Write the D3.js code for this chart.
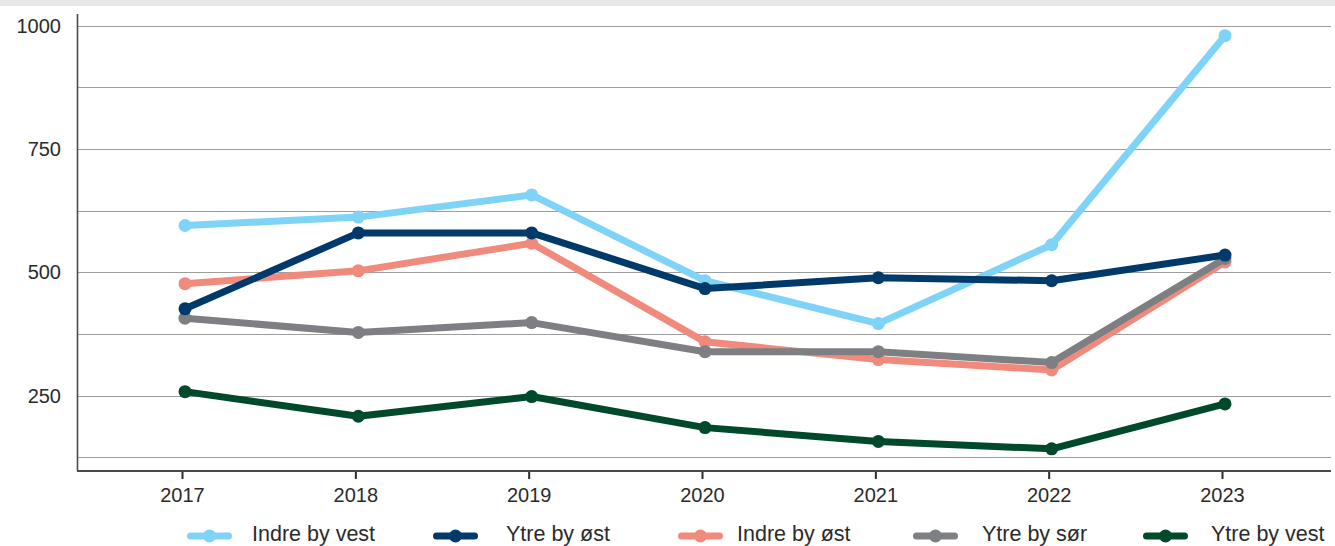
<!DOCTYPE html>
<html>
<head>
<meta charset="utf-8">
<script src="https://cdn.jsdelivr.net/npm/d3@7"></script>
<style>
  html, body { margin: 0; padding: 0; background: #ffffff; }
  svg { display: block; }
  text { font-family: "Liberation Sans", Arial, sans-serif; fill: #2b2b2b; }
</style>
</head>
<body>
<svg id="chart" width="1335" height="546"></svg>
<script>
// ---- data ----
const years = ["2017", "2018", "2019", "2020", "2021", "2022", "2023"];
const seriesNames = ["Indre by vest", "Ytre by øst", "Indre by øst", "Ytre by sør", "Ytre by vest"];
const indreByVest = [595, 612, 657, 483, 396, 556, 980];
const ytreByOst   = [426, 580, 580, 467, 489, 483, 535];
const indreByOst  = [477, 503, 559, 359, 323, 302, 521];
const ytreBySor   = [407, 378, 398, 339, 339, 317, 528];
const ytreByVest  = [258, 208, 248, 185, 157, 142, 233];
const gridValues  = [125, 250, 375, 500, 625, 750, 875, 1000];
const yTickLabels = [250, 500, 750, 1000];

const colors = {
  "Indre by vest": "#7fd3f6",
  "Ytre by øst":   "#003a6a",
  "Indre by øst":  "#f08a7d",
  "Ytre by sør":   "#7e7f83",
  "Ytre by vest":  "#004a2b"
};
const valuesByName = {
  "Indre by vest": indreByVest,
  "Ytre by øst": ytreByOst,
  "Indre by øst": indreByOst,
  "Ytre by sør": ytreBySor,
  "Ytre by vest": ytreByVest
};
// drawing order (bottom -> top)
const drawOrder = ["Indre by øst", "Ytre by sør", "Indre by vest", "Ytre by øst", "Ytre by vest"];

// ---- layout ----
const svg = d3.select("#chart");
const W = 1335;
const axisLeft = 77, axisRight = 1331, axisBottom = 471, axisTop = 14;

// top band
svg.append("rect").attr("x", 0).attr("y", 0).attr("width", W).attr("height", 6).attr("fill", "#e6e7e9");

const x = d3.scalePoint().domain(years).range([182, 1222]);
const y = d3.scaleLinear().domain([97, 1024]).range([axisBottom, axisTop]);

// gridlines
svg.append("g").selectAll("line").data(gridValues).join("line")
  .attr("x1", axisLeft).attr("x2", axisRight)
  .attr("y1", d => Math.round(y(d)) + 0.5).attr("y2", d => Math.round(y(d)) + 0.5)
  .attr("stroke", "#9d9d9d").attr("stroke-width", 1);

// y labels
svg.append("g").selectAll("text").data(yTickLabels).join("text")
  .attr("x", 61).attr("y", d => y(d))
  .attr("text-anchor", "end").attr("dominant-baseline", "central")
  .attr("font-size", 20)
  .text(d => d);

// y axis line
svg.append("line").attr("x1", axisLeft + 0.5).attr("x2", axisLeft + 0.5)
  .attr("y1", axisTop).attr("y2", axisBottom)
  .attr("stroke", "#4a4a4a").attr("stroke-width", 1.6);

// x axis
const xAxis = d3.axisBottom(x).tickSize(8).tickPadding(8).tickSizeOuter(0);
const gx = svg.append("g").attr("transform", `translate(0,${axisBottom})`).call(xAxis);
gx.select(".domain").remove();
gx.selectAll(".tick line").attr("stroke", "#2b2b2b").attr("stroke-width", 2);
gx.selectAll(".tick text").attr("font-size", 20).attr("fill", "#2b2b2b")
  .attr("font-family", "Liberation Sans, Arial, sans-serif").attr("dy", "0.75em");
svg.append("line").attr("x1", axisLeft).attr("x2", axisRight)
  .attr("y1", axisBottom).attr("y2", axisBottom)
  .attr("stroke", "#4a4a4a").attr("stroke-width", 2);

// series
const off = 3;
const line = d3.line().x((d, i) => x(years[i]) + off).y(d => y(d));
drawOrder.forEach(name => {
  const vals = valuesByName[name];
  const g = svg.append("g");
  g.append("path").attr("d", line(vals))
    .attr("fill", "none").attr("stroke", colors[name])
    .attr("stroke-width", 7).attr("stroke-linejoin", "round").attr("stroke-linecap", "round");
  g.selectAll("circle").data(vals).join("circle")
    .attr("cx", (d, i) => x(years[i]) + off).attr("cy", d => y(d))
    .attr("r", 6.5).attr("fill", colors[name]);
});

// legend
const legendSymbolX = [187, 433, 678, 913, 1143];
const legendTextX = [252, 506, 737, 982, 1211];
const legendY = 536;
const lg = svg.append("g");
seriesNames.forEach((name, i) => {
  const x0 = legendSymbolX[i];
  lg.append("line").attr("x1", x0 + 3.5).attr("x2", x0 + 41.5)
    .attr("y1", legendY).attr("y2", legendY)
    .attr("stroke", colors[name]).attr("stroke-width", 7).attr("stroke-linecap", "round");
  lg.append("circle").attr("cx", x0 + 22.5).attr("cy", legendY).attr("r", 6.5).attr("fill", colors[name]);
  lg.append("text").attr("x", legendTextX[i]).attr("y", 541)
    .attr("font-size", 21.5)
    .text(name);
});
</script>
</body>
</html>
